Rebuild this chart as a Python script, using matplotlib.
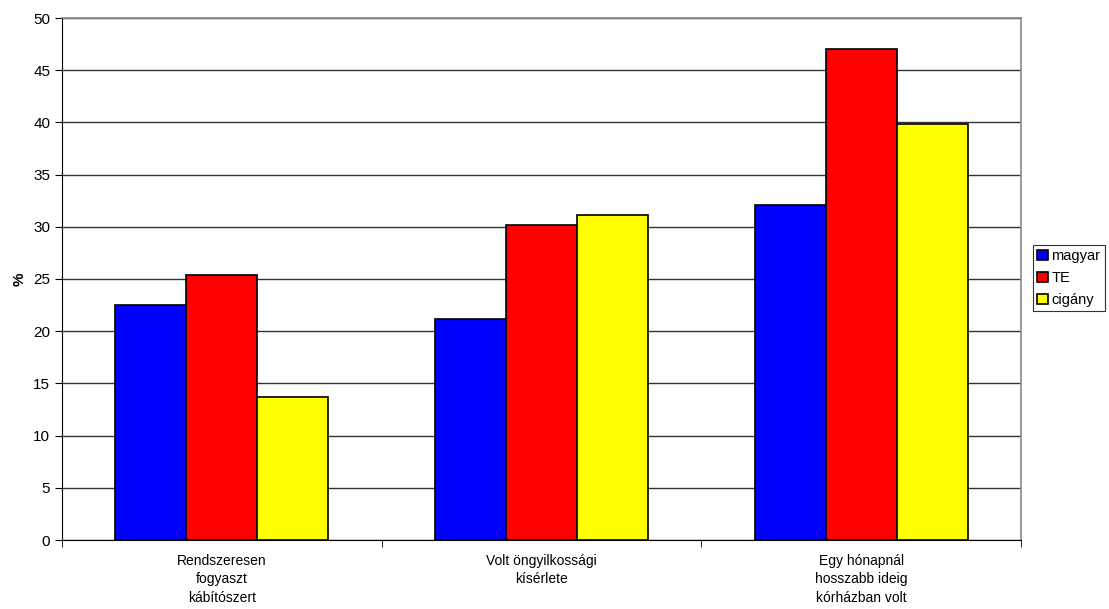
import matplotlib
matplotlib.use("Agg")
import matplotlib.pyplot as plt
import numpy as np

plt.rcParams['font.family'] = ['Liberation Sans', 'DejaVu Sans']

kategoriak = ['Rendszeresen\nfogyaszt\nkábítószert',
              'Volt öngyilkossági\nkísérlete',
              'Egy hónapnál\nhosszabb ideig\nkórházban volt']
sorozatok = ['magyar', 'TE', 'cigány']
magyar = [22.5, 21.2, 32.1]
te = [25.4, 30.2, 47.0]
cigany = [13.7, 31.1, 39.8]
y_ticks = [0, 5, 10, 15, 20, 25, 30, 35, 40, 45, 50]

szinek = ['#0000FF', '#FF0000', '#FFFF00']

fig = plt.figure(figsize=(11.09, 6.09), dpi=100)
ax = fig.add_axes([62/1109, 1 - 540/609, (1021-62)/1109, (540-18)/609])

x = np.arange(len(kategoriak))
w = 0.222
for i, (nev, ertekek) in enumerate(zip(sorozatok, [magyar, te, cigany])):
    ax.bar(x + (i - 1) * w, ertekek, width=w, color=szinek[i],
           edgecolor='black', linewidth=1.2, label=nev, zorder=3)

ax.set_xlim(-0.5, len(kategoriak) - 0.5)
ax.set_ylim(0, 50)
ax.set_yticks(y_ticks)
ax.yaxis.grid(True, color='#333333', linewidth=1, zorder=0)
ax.set_ylabel('%', fontsize=11, fontweight='bold', labelpad=5)

ax.set_xticks(x)
ax.set_xticklabels(kategoriak, fontsize=10, linespacing=1.4)
ax.set_xticks(np.arange(len(kategoriak) + 1) - 0.5, minor=True)
ax.tick_params(axis='x', which='major', length=0, pad=10)
ax.tick_params(axis='x', which='minor', length=5, direction='out')
ax.tick_params(axis='y', length=5, direction='out', labelsize=11)

for s in ['top', 'right']:
    ax.spines[s].set_color('#888888')
    ax.spines[s].set_linewidth(1.2)
for s in ['left', 'bottom']:
    ax.spines[s].set_color('black')

leg = fig.legend(loc='center left', bbox_to_anchor=(1033/1109, 1 - 278/609),
                 fontsize=10.5, frameon=True, fancybox=False, edgecolor='black',
                 handlelength=0.7, handleheight=0.7, handletextpad=0.25,
                 borderpad=0.3, labelspacing=0.55, borderaxespad=0)
leg.get_frame().set_linewidth(0.8)

fig.savefig('out.png', dpi=100)
